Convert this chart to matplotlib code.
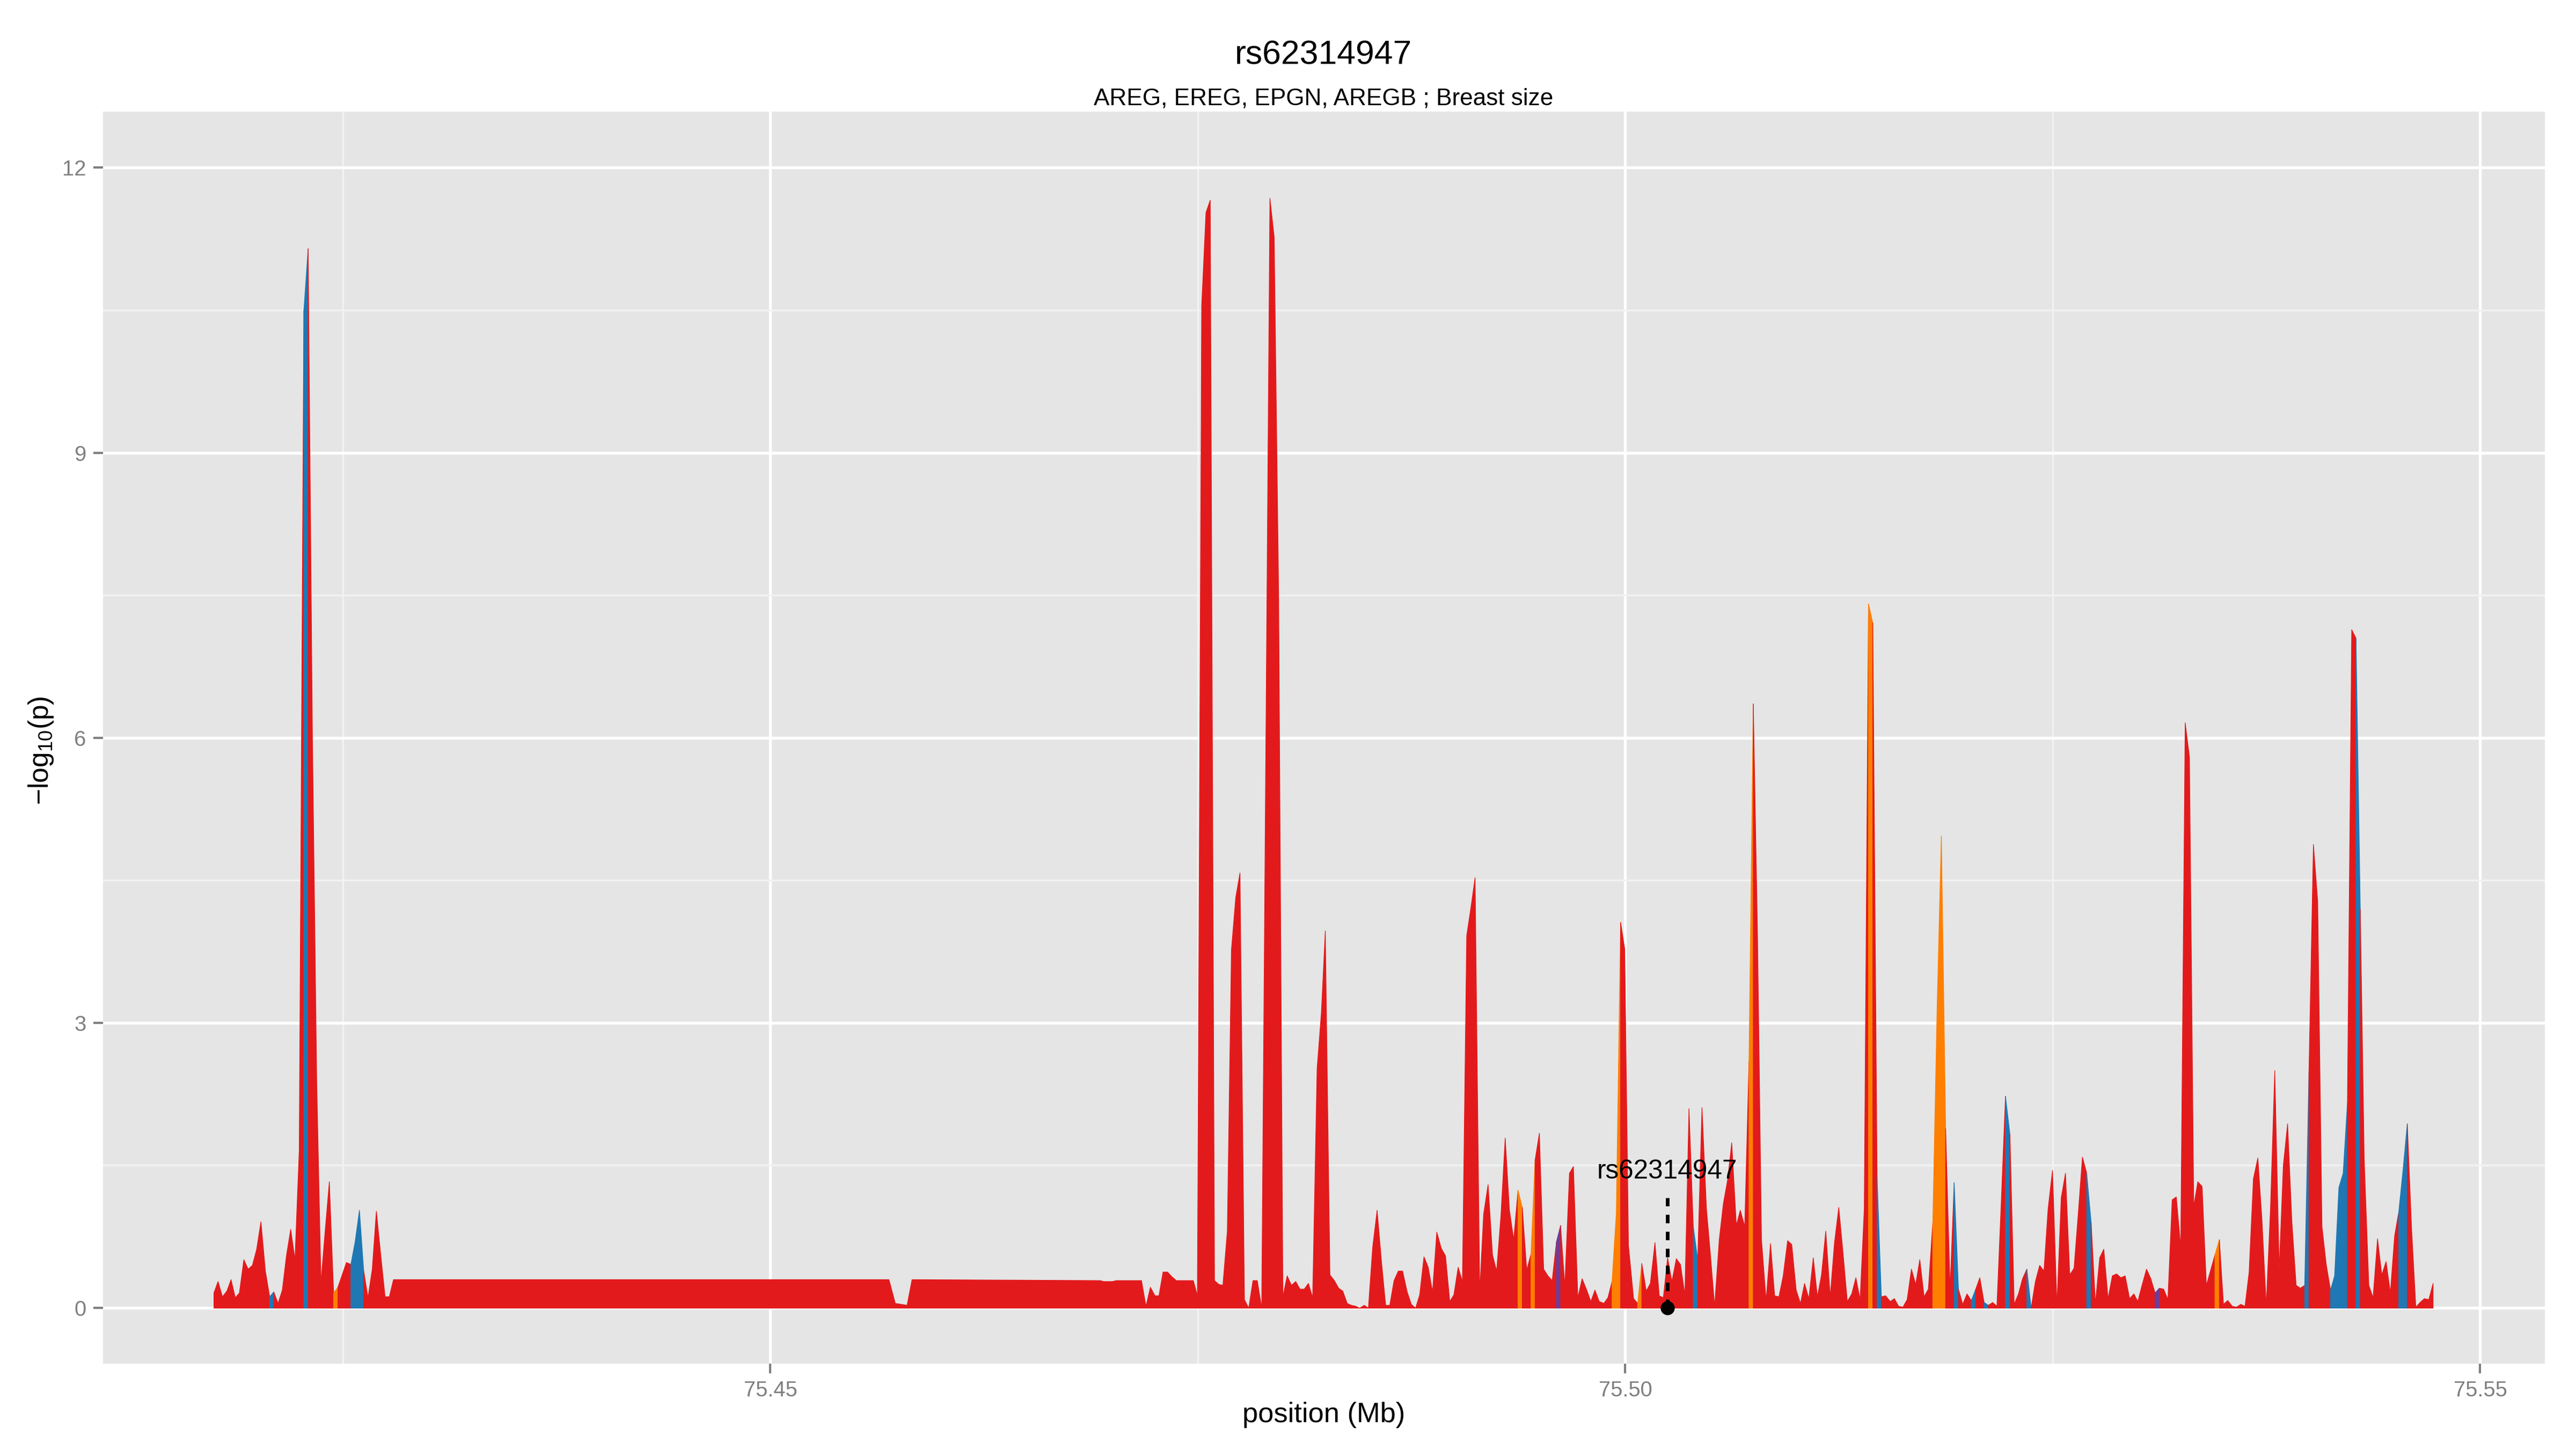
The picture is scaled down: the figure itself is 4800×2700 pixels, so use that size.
import matplotlib.pyplot as plt
from matplotlib.ticker import MultipleLocator, FormatStrFormatter

plt.rcParams['font.family'] = ['Liberation Sans', 'DejaVu Sans']
plt.rcParams['mathtext.default'] = 'regular'

title = "rs62314947"
subtitle = "AREG, EREG, EPGN, AREGB ; Breast size"
lead_snp = "rs62314947"
lead_pos = 75.50246

# SNP positions (Mb)
pos_mb = [
    75.41744, 75.41768, 75.41794, 75.41820, 75.41844, 75.41869, 75.41893, 75.41919, 75.41944, 75.41969,
    75.41994, 75.42019, 75.42045, 75.42070, 75.42094, 75.42119, 75.42144, 75.42168, 75.42193, 75.42218,
    75.42243, 75.42270, 75.42295, 75.42320, 75.42345, 75.42370, 75.42394, 75.42419, 75.42444, 75.42469,
    75.42494, 75.42519, 75.42545, 75.42570, 75.42595, 75.42620, 75.42645, 75.42670, 75.42694, 75.42719,
    75.42745, 75.42770, 75.42794, 75.45692, 75.45729, 75.45798, 75.45827, 75.46928, 75.46947, 75.46997,
    75.47023, 75.47169, 75.47195, 75.47221, 75.47248, 75.47271, 75.47295, 75.47321, 75.47347, 75.47373,
    75.47472, 75.47496, 75.47521, 75.47546, 75.47571, 75.47596, 75.47621, 75.47645, 75.47671, 75.47695,
    75.47720, 75.47745, 75.47771, 75.47796, 75.47821, 75.47846, 75.47872, 75.47920, 75.47945, 75.47971,
    75.47996, 75.48021, 75.48046, 75.48071, 75.48096, 75.48121, 75.48145, 75.48170, 75.48196, 75.48221,
    75.48244, 75.48271, 75.48297, 75.48322, 75.48346, 75.48372, 75.48396, 75.48422, 75.48445, 75.48472,
    75.48496, 75.48521, 75.48547, 75.48573, 75.48597, 75.48621, 75.48646, 75.48671, 75.48696, 75.48723,
    75.48747, 75.48772, 75.48796, 75.48821, 75.48846, 75.48871, 75.48896, 75.48922, 75.48947, 75.48972,
    75.48996, 75.49021, 75.49046, 75.49071, 75.49096, 75.49120, 75.49147, 75.49170, 75.49196, 75.49222,
    75.49246, 75.49271, 75.49296, 75.49321, 75.49346, 75.49371, 75.49396, 75.49422, 75.49447, 75.49471,
    75.49496, 75.49521, 75.49546, 75.49571, 75.49596, 75.49620, 75.49645, 75.49672, 75.49695, 75.49721,
    75.49746, 75.49773, 75.49797, 75.49821, 75.49846, 75.49873, 75.49897, 75.49921, 75.49946, 75.49971,
    75.49995, 75.50017, 75.50047, 75.50071, 75.50095, 75.50121, 75.50145, 75.50172, 75.50197, 75.50221,
    75.50246, 75.50271, 75.50297, 75.50321, 75.50347, 75.50371, 75.50396, 75.50422, 75.50447, 75.50473,
    75.50497, 75.50521, 75.50548, 75.50572, 75.50597, 75.50621, 75.50648, 75.50671, 75.50697, 75.50722,
    75.50747, 75.50772, 75.50795, 75.50822, 75.50848, 75.50872, 75.50897, 75.50922, 75.50948, 75.50972,
    75.50998, 75.51023, 75.51047, 75.51072, 75.51098, 75.51122, 75.51146, 75.51171, 75.51197, 75.51222,
    75.51247, 75.51271, 75.51297, 75.51323, 75.51347, 75.51372, 75.51396, 75.51421, 75.51446, 75.51471,
    75.51496, 75.51521, 75.51548, 75.51572, 75.51597, 75.51622, 75.51647, 75.51672, 75.51697, 75.51721,
    75.51746, 75.51771, 75.51797, 75.51822, 75.51847, 75.51872, 75.51898, 75.51922, 75.51947, 75.51972,
    75.51997, 75.52022, 75.52048, 75.52072, 75.52097, 75.52122, 75.52147, 75.52172, 75.52197, 75.52222,
    75.52248, 75.52273, 75.52298, 75.52322, 75.52347, 75.52372, 75.52397, 75.52422, 75.52447, 75.52471,
    75.52497, 75.52523, 75.52548, 75.52573, 75.52598, 75.52623, 75.52648, 75.52672, 75.52697, 75.52723,
    75.52748, 75.52773, 75.52797, 75.52822, 75.52847, 75.52872, 75.52897, 75.52922, 75.52948, 75.52973,
    75.52996, 75.53022, 75.53047, 75.53072, 75.53097, 75.53122, 75.53147, 75.53172, 75.53197, 75.53221,
    75.53247, 75.53273, 75.53298, 75.53323, 75.53347, 75.53372, 75.53397, 75.53422, 75.53447, 75.53473,
    75.53497, 75.53522, 75.53548, 75.53573, 75.53598, 75.53623, 75.53647, 75.53672, 75.53698, 75.53722,
    75.53747, 75.53772, 75.53797, 75.53823, 75.53847, 75.53872, 75.53897, 75.53922, 75.53947, 75.53972,
    75.53997, 75.54023, 75.54048, 75.54073, 75.54098, 75.54123, 75.54147, 75.54172, 75.54197, 75.54222,
    75.54247, 75.54272, 75.54297, 75.54320, 75.54347, 75.54372, 75.54398, 75.54423, 75.54448, 75.54473,
    75.54498, 75.54522, 75.54547, 75.54572, 75.54597, 75.54622, 75.54647, 75.54672, 75.54698, 75.54723,
]

# -log10(p) at each position
logp = [
    0.16, 0.28, 0.12, 0.18, 0.30, 0.11, 0.16, 0.51, 0.41, 0.45,
    0.62, 0.91, 0.39, 0.12, 0.17, 0.05, 0.19, 0.55, 0.83, 0.51,
    1.66, 10.50, 11.15, 6.00, 2.40, 0.27, 0.80, 1.33, 0.16, 0.22,
    0.35, 0.48, 0.46, 0.70, 1.03, 0.39, 0.11, 0.41, 1.02, 0.57,
    0.12, 0.12, 0.30, 0.30, 0.05, 0.03, 0.30, 0.29, 0.28, 0.28,
    0.29, 0.29, 0.02, 0.22, 0.13, 0.13, 0.38, 0.38, 0.33, 0.29,
    0.29, 0.13, 10.55, 11.53, 11.66, 0.29, 0.25, 0.24, 0.81, 3.77,
    4.32, 4.58, 0.09, 0.00, 0.29, 0.29, 0.00, 11.68, 11.27, 7.50,
    0.12, 0.34, 0.24, 0.28, 0.20, 0.20, 0.26, 0.11, 2.52, 3.11,
    3.97, 0.35, 0.29, 0.21, 0.18, 0.05, 0.03, 0.02, 0.00, 0.03,
    0.00, 0.64, 1.03, 0.48, 0.03, 0.03, 0.29, 0.39, 0.39, 0.17,
    0.04, 0.00, 0.14, 0.54, 0.43, 0.17, 0.80, 0.63, 0.55, 0.07,
    0.14, 0.43, 0.28, 3.92, 4.22, 4.53, 0.17, 0.99, 1.30, 0.56,
    0.39, 0.97, 1.79, 1.03, 0.72, 1.24, 1.06, 0.40, 0.57, 1.56,
    1.84, 0.41, 0.34, 0.29, 0.70, 0.87, 0.23, 1.42, 1.49, 0.11,
    0.31, 0.19, 0.07, 0.19, 0.07, 0.05, 0.11, 0.28, 1.00, 4.06,
    3.78, 0.66, 0.10, 0.05, 0.47, 0.18, 0.26, 0.69, 0.13, 0.11,
    0.53, 0.28, 0.52, 0.46, 0.14, 2.10, 0.86, 0.51, 2.11, 1.05,
    0.55, 0.02, 0.72, 1.10, 1.35, 1.74, 0.87, 1.03, 0.86, 2.60,
    6.36, 3.90, 0.72, 0.08, 0.68, 0.13, 0.12, 0.34, 0.71, 0.67,
    0.19, 0.05, 0.26, 0.10, 0.53, 0.12, 0.35, 0.81, 0.12, 0.69,
    1.06, 0.60, 0.07, 0.15, 0.32, 0.09, 1.04, 7.41, 7.21, 1.38,
    0.12, 0.13, 0.07, 0.10, 0.02, 0.01, 0.09, 0.41, 0.25, 0.51,
    0.12, 0.20, 0.90, 3.14, 4.97, 1.89, 0.20, 1.32, 0.20, 0.04,
    0.15, 0.08, 0.20, 0.32, 0.06, 0.03, 0.06, 0.02, 1.10, 2.23,
    1.83, 0.04, 0.15, 0.31, 0.41, 0.00, 0.28, 0.45, 0.39, 1.04,
    1.45, 0.03, 1.16, 1.42, 0.35, 0.42, 1.00, 1.59, 1.42, 0.90,
    0.05, 0.53, 0.62, 0.10, 0.34, 0.36, 0.32, 0.34, 0.10, 0.15,
    0.07, 0.25, 0.41, 0.31, 0.16, 0.21, 0.20, 0.09, 1.14, 1.17,
    0.64, 6.16, 5.80, 1.07, 1.33, 1.28, 0.24, 0.40, 0.56, 0.72,
    0.04, 0.08, 0.02, 0.01, 0.04, 0.02, 0.38, 1.36, 1.58, 0.93,
    0.03, 1.05, 2.50, 0.41, 1.50, 1.94, 0.91, 0.24, 0.21, 0.24,
    2.49, 4.88, 4.28, 0.86, 0.46, 0.19, 0.34, 1.27, 1.42, 2.16,
    7.14, 7.05, 4.20, 1.57, 0.24, 0.11, 0.73, 0.35, 0.49, 0.16,
    0.76, 1.01, 1.45, 1.94, 0.84, 0.01, 0.06, 0.10, 0.09, 0.26,
]

# class of each SNP (colours the interval to its right)
ld_class = [
    0, 0, 0, 0, 0, 0, 0, 0, 0, 0,
    0, 0, 0, 1, 0, 0, 0, 0, 0, 0,
    0, 1, 0, 0, 0, 0, 0, 0, 2, 0,
    0, 0, 1, 1, 1, 0, 0, 0, 0, 0,
    0, 0, 0, 0, 0, 0, 0, 0, 0, 0,
    0, 0, 0, 0, 0, 0, 0, 0, 0, 0,
    0, 0, 0, 0, 0, 0, 0, 0, 0, 0,
    0, 0, 0, 0, 0, 0, 0, 0, 0, 0,
    0, 0, 0, 0, 0, 0, 0, 0, 0, 0,
    0, 0, 0, 0, 0, 0, 0, 0, 0, 0,
    0, 0, 0, 0, 0, 0, 0, 0, 0, 0,
    0, 0, 0, 0, 0, 0, 0, 0, 0, 0,
    0, 0, 0, 0, 0, 0, 0, 0, 0, 0,
    0, 0, 0, 0, 0, 2, 0, 0, 2, 0,
    0, 0, 0, 0, 3, 0, 0, 0, 0, 0,
    0, 0, 0, 0, 0, 0, 0, 2, 2, 0,
    0, 0, 0, 2, 0, 0, 0, 0, 0, 0,
    0, 0, 0, 0, 0, 0, 1, 0, 0, 0,
    0, 0, 0, 0, 0, 0, 0, 0, 0, 2,
    0, 0, 0, 0, 0, 0, 0, 0, 0, 0,
    0, 0, 0, 0, 0, 0, 0, 0, 0, 0,
    0, 0, 0, 0, 0, 0, 0, 2, 0, 1,
    0, 0, 0, 0, 0, 0, 0, 0, 0, 0,
    0, 0, 2, 2, 2, 0, 0, 1, 0, 0,
    0, 1, 0, 0, 1, 0, 0, 0, 0, 1,
    0, 0, 0, 0, 1, 0, 0, 0, 0, 0,
    0, 0, 0, 0, 0, 0, 0, 0, 1, 0,
    0, 0, 0, 0, 0, 0, 0, 0, 0, 0,
    0, 0, 0, 0, 3, 0, 0, 0, 0, 0,
    0, 0, 0, 0, 0, 0, 0, 0, 2, 0,
    0, 0, 0, 0, 0, 0, 0, 0, 0, 0,
    0, 0, 0, 0, 0, 0, 0, 0, 0, 1,
    0, 0, 0, 0, 0, 1, 1, 1, 1, 0,
    0, 1, 0, 0, 0, 0, 0, 0, 0, 0,
    0, 1, 1, 0, 0, 0, 0, 0, 0, 0,
]

class_colors = ["#E31A1C", "#1F78B4", "#FF7F00", "#6A3D9A"]

fig = plt.figure(figsize=(16, 9), dpi=300)
ax = fig.add_axes([0.04, 0.0589, 0.9479, 0.8641])
ax.set_facecolor("#E5E5E5")
for s in ax.spines.values():
    s.set_visible(False)

# fill runs of the same class as one polygon
n = len(pos_mb)
start = 0
for i in range(1, n):
    if i == n - 1 or ld_class[i] != ld_class[start]:
        c = class_colors[ld_class[start]]
        ax.fill_between(pos_mb[start:i + 1], logp[start:i + 1], 0,
                        facecolor=c, edgecolor=c, linewidth=0.3, zorder=2)
        start = i

# lead SNP marker
ax.plot([lead_pos, lead_pos], [0, 1.16], color="black", lw=1.65,
        linestyle=(0, (2.3, 2.3)), zorder=4)
ax.plot([lead_pos], [0], "o", color="black", ms=5.3, zorder=5)
ax.text(lead_pos, 1.36, lead_snp, ha="center", va="baseline", fontsize=11.9, zorder=5)

ax.set_xlim(75.41097, 75.55378)
ax.set_ylim(-0.587, 12.59)
ax.xaxis.set_major_locator(MultipleLocator(0.05))
ax.xaxis.set_minor_locator(MultipleLocator(0.025))
ax.xaxis.set_major_formatter(FormatStrFormatter("%.2f"))
ax.yaxis.set_major_locator(MultipleLocator(3))
ax.yaxis.set_minor_locator(MultipleLocator(1.5))
ax.grid(which="major", color="white", lw=1.3)
ax.grid(which="minor", color="#F2F2F2", lw=0.8)
ax.set_axisbelow(True)
ax.tick_params(which="major", length=4.3, width=1.0, color="#7F7F7F",
               labelcolor="#7F7F7F", labelsize=9.6, pad=3.2)
ax.tick_params(which="minor", length=0)

fig.text(0.5138, 0.962, title, ha="center", va="center", fontsize=15)
fig.text(0.5138, 0.932, subtitle, ha="center", va="center", fontsize=10.6)
fig.text(0.5138, 0.0237, "position (Mb)", ha="center", va="center", fontsize=12.6)
fig.text(0.016, 0.482, "\u2212log$_{10}$(p)", rotation=90, ha="center", va="center", fontsize=12.4)

fig.savefig("out.png", dpi=300)
